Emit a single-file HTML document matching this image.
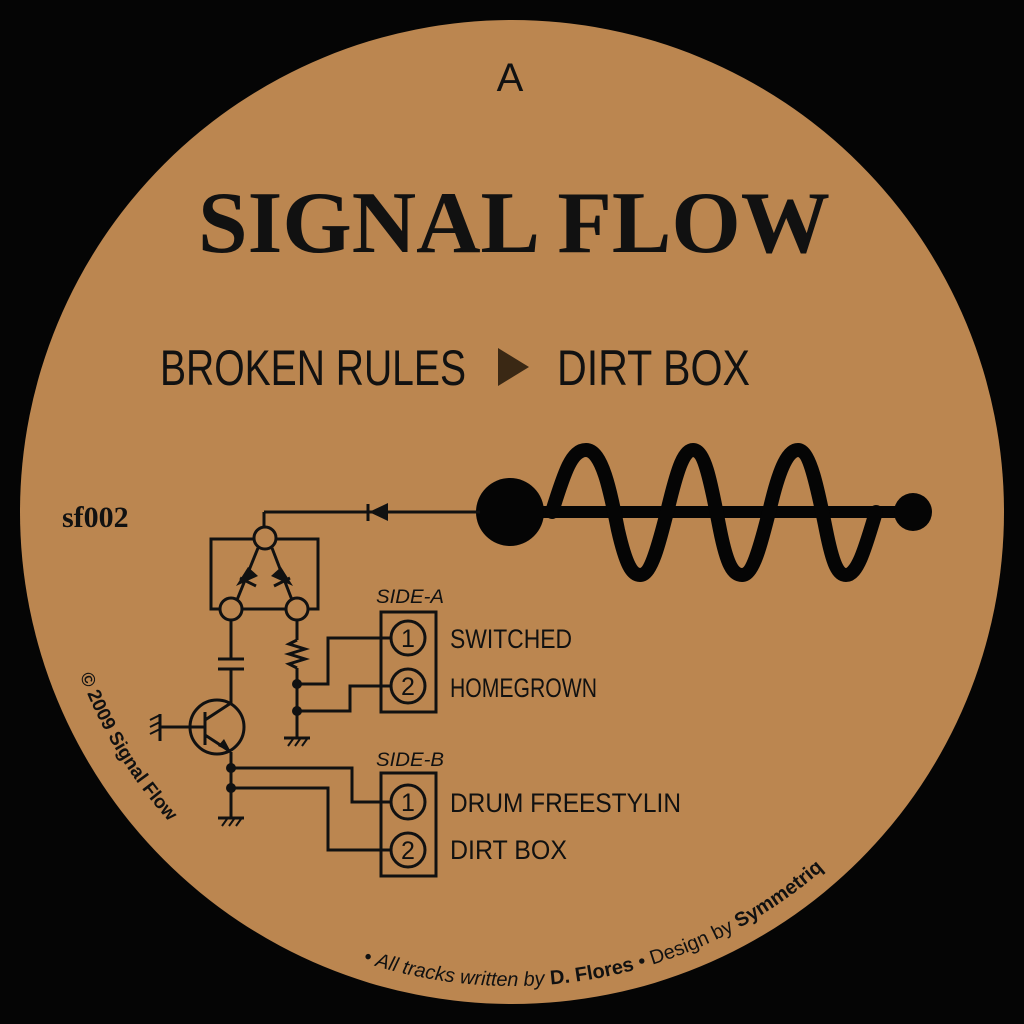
<!DOCTYPE html>
<html><head><meta charset="utf-8"><style>
html,body{margin:0;padding:0;background:#000;}
svg{display:block;}
</style></head><body>
<svg width="1024" height="1024" viewBox="0 0 1024 1024" xmlns="http://www.w3.org/2000/svg">
<rect width="1024" height="1024" fill="#050505"/>
<circle cx="512" cy="512" r="492" fill="#bb8650"/>
<defs>
<path id="arcB" d="M 512 512 m -474 0 a 474 474 0 0 0 948 0"/>
<path id="arcL" d="M 512 512 m -462 0 a 462 462 0 0 0 924 0"/>
</defs>
<g fill="#111" font-family="Liberation Sans, sans-serif">
<text x="510" y="91" font-size="40" text-anchor="middle">A</text>
<text x="198" y="252" font-family="Liberation Serif, serif" font-size="88" font-weight="bold" textLength="632" lengthAdjust="spacingAndGlyphs">SIGNAL FLOW</text>
<text x="160" y="385" font-size="50" textLength="306" lengthAdjust="spacingAndGlyphs">BROKEN RULES</text>
<polygon points="498,348 529,367 498,386" fill="#3a2814"/>
<text x="557" y="385" font-size="50" textLength="193" lengthAdjust="spacingAndGlyphs">DIRT BOX</text>
<text x="62" y="527" font-family="Liberation Serif, serif" font-size="30" font-weight="bold">sf002</text>
<text x="376" y="603" font-size="19" font-style="italic" textLength="68" lengthAdjust="spacingAndGlyphs">SIDE-A</text>
<text x="376" y="766" font-size="19" font-style="italic" textLength="68" lengthAdjust="spacingAndGlyphs">SIDE-B</text>
<text x="450" y="648" font-size="27" textLength="122" lengthAdjust="spacingAndGlyphs">SWITCHED</text>
<text x="450" y="697" font-size="27" textLength="147" lengthAdjust="spacingAndGlyphs">HOMEGROWN</text>
<text x="450" y="812" font-size="27" textLength="231" lengthAdjust="spacingAndGlyphs">DRUM FREESTYLIN</text>
<text x="450" y="859" font-size="27" textLength="117" lengthAdjust="spacingAndGlyphs">DIRT BOX</text>
<text font-size="20"><textPath href="#arcB" startOffset="39.8%">• <tspan font-style="italic">All tracks written by </tspan><tspan font-weight="bold">D. Flores</tspan> • Design by <tspan font-weight="bold">Symmetriq</tspan></textPath></text>
<text font-size="19" font-weight="bold"><textPath href="#arcL" startOffset="11.5%">© 2009 Signal Flow</textPath></text>
</g>
<!-- wave -->
<g stroke="#050505" fill="none" stroke-linecap="round">
<line x1="520" y1="512" x2="913" y2="512" stroke-width="12"/>
<path d="M552 512 C565 470 572 450 586 450 C602 450 610 490 618 530 C626 565 632 575 640 575 C652 575 660 540 670 500 C678 468 684 450 693 450 C706 450 712 490 720 530 C727 565 733 575 742 575 C754 575 762 540 772 500 C780 468 788 450 798 450 C810 450 818 490 826 530 C833 565 838 575 846 575 C858 575 866 545 876 512" stroke-width="14"/>
</g>
<circle cx="510" cy="512" r="34" fill="#050505"/>
<circle cx="913" cy="512" r="19" fill="#050505"/>
<!-- circuit -->
<g stroke="#111" stroke-width="3" fill="none">
<line x1="264" y1="512" x2="480" y2="512"/>
<line x1="264" y1="512" x2="264" y2="528"/>
<rect x="211" y="539" width="107" height="70"/>
<line x1="258" y1="548" x2="237" y2="600"/>
<line x1="272" y1="548" x2="292" y2="600"/>
<line x1="240" y1="578" x2="256" y2="586"/>
<line x1="274" y1="586" x2="290" y2="578"/>
<line x1="231" y1="619" x2="231" y2="659"/>
<line x1="218" y1="659" x2="244" y2="659"/>
<line x1="218" y1="669" x2="244" y2="669"/>
<line x1="231" y1="669" x2="231" y2="703"/>
<circle cx="217" cy="727" r="27"/>
<line x1="205" y1="712" x2="205" y2="745"/>
<line x1="160" y1="727" x2="205" y2="727"/>
<line x1="160" y1="714" x2="160" y2="741"/>
<line x1="205" y1="720" x2="231" y2="703"/>
<line x1="205" y1="735" x2="231" y2="752"/>
<line x1="231" y1="752" x2="231" y2="818"/>
<line x1="218" y1="818" x2="244" y2="818"/>
<line x1="297" y1="619" x2="297" y2="640"/>
<polyline points="297,640 289,644 305,649 289,654 305,659 289,664 297,668"/>
<line x1="297" y1="668" x2="297" y2="738"/>
<line x1="284" y1="738" x2="310" y2="738"/>
<polyline points="297,684 328,684 328,638 391,638"/>
<polyline points="297,711 350,711 350,686 391,686"/>
<polyline points="231,768 352,768 352,802 391,802"/>
<polyline points="231,788 328,788 328,850 391,850"/>
<rect x="381" y="612" width="55" height="100"/>
<rect x="381" y="773" width="55" height="103"/>
<circle cx="408" cy="638" r="17"/>
<circle cx="408" cy="686" r="17"/>
<circle cx="408" cy="802" r="17"/>
<circle cx="408" cy="850" r="17"/>
<line x1="368" y1="504" x2="368" y2="521"/>
<path d="M150 720 l10 -5 M150 727 l10 -5 M150 734 l10 -5" stroke-width="2"/>
<path d="M222 826 l5 -7 M229 826 l5 -7 M236 826 l5 -7" stroke-width="2"/>
<path d="M288 746 l5 -7 M295 746 l5 -7 M302 746 l5 -7" stroke-width="2"/>
</g>
<g fill="#111">
<polygon points="369,512 388,503 388,521"/>
<polygon points="236,586 248,567 258,576"/>
<polygon points="293,586 281,567 271,576"/>
<polygon points="231,752 218,746 224,739"/>
<circle cx="297" cy="684" r="5"/><circle cx="297" cy="711" r="5"/>
<circle cx="231" cy="768" r="5"/><circle cx="231" cy="788" r="5"/>
</g>
<g fill="#bb8650" stroke="#111" stroke-width="3">
<circle cx="265" cy="538" r="11"/>
<circle cx="231" cy="609" r="11"/>
<circle cx="297" cy="609" r="11"/>
</g>
<g fill="#111" font-family="Liberation Sans, sans-serif" font-size="25" text-anchor="middle">
<text x="408" y="647">1</text><text x="408" y="695">2</text>
<text x="408" y="811">1</text><text x="408" y="859">2</text>
</g>
</svg>
</body></html>
